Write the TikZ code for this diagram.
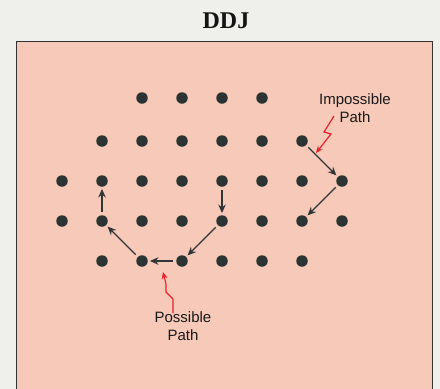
\documentclass[tikz,border=0pt]{standalone}
\usepackage{fontspec}
\setmainfont{Liberation Serif}
\newfontfamily\labelfont{Liberation Sans}
\usetikzlibrary{arrows.meta}
\definecolor{paper}{HTML}{EFEFEC}
\definecolor{boxfill}{HTML}{F6C9B9}
\definecolor{dotcol}{HTML}{2B3333}
\definecolor{arrcol}{HTML}{303636}
\definecolor{zapred}{HTML}{E62129}
\tikzset{
  gdot/.style={circle,fill=dotcol,inner sep=0pt,minimum size=11.5pt},
  patharrow/.style={draw=arrcol,line width=1.3pt,-{Stealth[length=8.5pt,width=7.5pt]},shorten <=3pt,shorten >=2pt},
  zap/.style={draw=zapred,line width=1.2pt,-{Stealth[length=7pt,width=6pt]},line join=miter},
  lbl/.style={font=\labelfont\fontsize{15}{18}\selectfont,text=black!90,align=center,inner sep=0pt},
}
\begin{document}
\begin{tikzpicture}[x=1pt,y=-1pt]
\useasboundingbox (0,0) rectangle (440,389);
\fill[paper] (0,0) rectangle (440,389);
\fill[boxfill] (16,41) rectangle (432,389);
\draw[black!80,line width=1pt] (16,389) -- (16,41) -- (432,41) -- (432,389);
\node[font=\bfseries\fontsize{24}{26}\selectfont,text=black!92] (title) at (226,21) {DDJ};
% dots
\foreach \k in {3,...,6} { \node[gdot] (A\k) at ({62+40*(\k-1)},98) {}; }
\foreach \k in {2,...,7} { \node[gdot] (B\k) at ({62+40*(\k-1)},141) {}; }
\foreach \k in {1,...,8} { \node[gdot] (C\k) at ({62+40*(\k-1)},181) {}; }
\foreach \k in {1,...,8} { \node[gdot] (D\k) at ({62+40*(\k-1)},221) {}; }
\foreach \k in {2,...,7} { \node[gdot] (E\k) at ({62+40*(\k-1)},261) {}; }
% possible path
\draw[patharrow] (C5) -- (D5);
\draw[patharrow] (D5) -- (E4);
\draw[patharrow] (E4) -- (E3);
\draw[patharrow] (E3) -- (D2);
\draw[patharrow] (D2) -- (C2);
% impossible path
\draw[patharrow] (B7) -- (C8);
\draw[patharrow] (C8) -- (D7);
% labels
\node[lbl] (imp) at (355,108) {Impossible\\Path};
\node[lbl] (pos) at (183,326) {Possible\\Path};
% lightning pointers
\coordinate (impstart) at (334,116);
\coordinate (imptip) at (316,153);
\coordinate (posstart) at (173,313);
\coordinate (postip) at (163,272);
\draw[zap] (impstart) -- (324,132) -- (331,134) -- (imptip);
\draw[zap] (posstart) -- (173,299) -- (166,292) -- (166,284) -- (postip);
\end{tikzpicture}
\end{document}
